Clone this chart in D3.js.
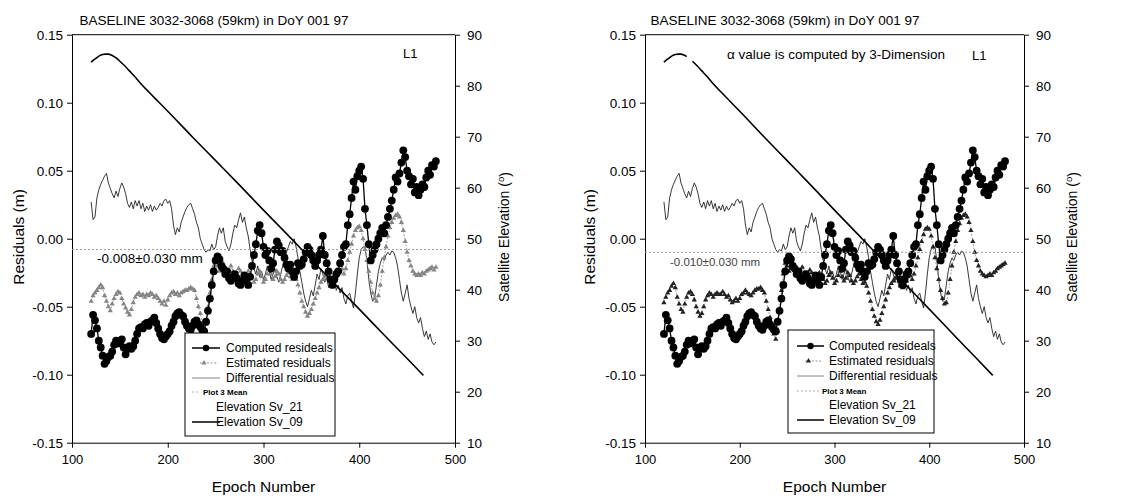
<!DOCTYPE html>
<html>
<head>
<meta charset="utf-8">
<script src="https://cdn.jsdelivr.net/npm/d3@7"></script>
<style>
  body { margin: 0; background: #fff; }
  svg text { font-family: "Liberation Sans", Arial, sans-serif; fill: #000; }
</style>
</head>
<body>
<svg id="chart" width="1125" height="499"></svg>
<script>
// epochs sampled every 2 epochs
const epochs = d3.range(120, 481, 2);

// computed residuals (m), same in both panels
const computed = [
  -0.070,-0.056,-0.060,-0.066,-0.075,-0.080,-0.086,-0.092,-0.090,-0.087,
  -0.086,-0.083,-0.078,-0.075,-0.077,-0.076,-0.074,-0.080,-0.085,-0.081,
  -0.079,-0.081,-0.079,-0.075,-0.070,-0.066,-0.065,-0.066,-0.063,-0.062,
  -0.064,-0.061,-0.060,-0.058,-0.062,-0.066,-0.070,-0.073,-0.074,-0.072,
  -0.070,-0.068,-0.064,-0.061,-0.057,-0.055,-0.054,-0.056,-0.057,-0.061,
  -0.064,-0.066,-0.067,-0.064,-0.061,-0.060,-0.063,-0.065,-0.067,-0.068,
  -0.061,-0.053,-0.044,-0.034,-0.024,-0.016,-0.013,-0.015,-0.020,-0.022,
  -0.026,-0.024,-0.029,-0.031,-0.028,-0.026,-0.029,-0.033,-0.034,-0.031,
  -0.027,-0.030,-0.034,-0.028,-0.020,-0.012,-0.004,0.006,0.010,0.004,
  -0.006,-0.012,-0.009,-0.016,-0.022,-0.018,-0.008,-0.002,-0.005,-0.010,
  -0.009,-0.014,-0.019,-0.022,-0.019,-0.024,-0.028,-0.024,-0.018,-0.020,
  -0.019,-0.015,-0.010,-0.006,-0.008,-0.012,-0.016,-0.020,-0.016,-0.012,
  -0.008,0.002,-0.012,-0.018,-0.024,-0.030,-0.034,-0.030,-0.026,-0.024,
  -0.018,-0.012,-0.006,-0.004,0.010,0.018,0.030,0.042,0.036,0.046,
  0.050,0.053,0.044,0.022,0.010,-0.004,-0.016,-0.012,-0.008,-0.004,
  0.000,0.004,0.008,0.004,0.010,0.016,0.022,0.028,0.036,0.045,
  0.042,0.048,0.056,0.065,0.060,0.050,0.046,0.040,0.044,0.034,
  0.038,0.032,0.036,0.040,0.038,0.045,0.050,0.047,0.054,0.053,
  0.057
];

// estimated residuals (m), left panel
const estimatedLeft = [
  -0.046,-0.042,-0.040,-0.038,-0.036,-0.034,-0.036,-0.042,-0.046,-0.050,
  -0.053,-0.048,-0.044,-0.041,-0.039,-0.040,-0.044,-0.048,-0.051,-0.054,
  -0.056,-0.052,-0.047,-0.043,-0.041,-0.040,-0.042,-0.041,-0.043,-0.041,
  -0.042,-0.040,-0.041,-0.043,-0.042,-0.044,-0.046,-0.048,-0.046,-0.049,
  -0.045,-0.042,-0.040,-0.039,-0.041,-0.040,-0.042,-0.040,-0.039,-0.038,
  -0.038,-0.037,-0.036,-0.037,-0.038,-0.044,-0.050,-0.055,-0.062,-0.067,
  -0.063,-0.050,-0.040,-0.030,-0.020,-0.016,-0.020,-0.024,-0.020,-0.018,
  -0.022,-0.026,-0.024,-0.020,-0.024,-0.028,-0.026,-0.022,-0.024,-0.028,
  -0.030,-0.027,-0.024,-0.026,-0.028,-0.032,-0.030,-0.026,-0.024,-0.028,
  -0.032,-0.030,-0.026,-0.022,-0.026,-0.030,-0.028,-0.024,-0.026,-0.030,
  -0.032,-0.030,-0.027,-0.025,-0.028,-0.030,-0.028,-0.030,-0.034,-0.040,
  -0.046,-0.050,-0.054,-0.057,-0.055,-0.052,-0.048,-0.044,-0.040,-0.036,
  -0.032,-0.030,-0.028,-0.026,-0.028,-0.030,-0.032,-0.030,-0.028,-0.026,
  -0.024,-0.022,-0.026,-0.022,-0.016,-0.010,-0.004,0.002,0.006,0.008,
  0.009,0.006,0.000,-0.008,-0.016,-0.024,-0.032,-0.040,-0.044,-0.046,
  -0.042,-0.034,-0.024,-0.014,-0.006,0.002,0.008,0.012,0.015,0.017,
  0.018,0.016,0.012,0.006,-0.002,-0.010,-0.016,-0.020,-0.024,-0.026,
  -0.027,-0.026,-0.027,-0.025,-0.026,-0.024,-0.023,-0.022,-0.021,-0.023,
  -0.021
];

// estimated residuals (m), right panel (3-D alpha)
const estimatedRight = [
  -0.047,-0.043,-0.040,-0.038,-0.035,-0.033,-0.036,-0.043,-0.048,-0.052,
  -0.054,-0.048,-0.043,-0.040,-0.039,-0.041,-0.045,-0.050,-0.054,-0.057,
  -0.055,-0.050,-0.045,-0.042,-0.040,-0.041,-0.043,-0.041,-0.040,-0.041,
  -0.041,-0.039,-0.041,-0.043,-0.042,-0.045,-0.047,-0.046,-0.044,-0.046,
  -0.044,-0.041,-0.040,-0.038,-0.040,-0.041,-0.042,-0.040,-0.038,-0.037,
  -0.037,-0.036,-0.038,-0.040,-0.046,-0.052,-0.058,-0.064,-0.070,-0.074,
  -0.068,-0.052,-0.038,-0.026,-0.018,-0.020,-0.024,-0.022,-0.018,-0.020,
  -0.024,-0.027,-0.024,-0.021,-0.025,-0.029,-0.026,-0.023,-0.025,-0.029,
  -0.031,-0.028,-0.025,-0.027,-0.030,-0.033,-0.031,-0.027,-0.025,-0.029,
  -0.033,-0.031,-0.027,-0.024,-0.028,-0.031,-0.029,-0.025,-0.027,-0.031,
  -0.033,-0.031,-0.028,-0.026,-0.030,-0.033,-0.032,-0.035,-0.040,-0.046,
  -0.052,-0.057,-0.061,-0.063,-0.060,-0.055,-0.050,-0.045,-0.040,-0.036,
  -0.033,-0.031,-0.029,-0.028,-0.031,-0.034,-0.036,-0.034,-0.031,-0.028,
  -0.027,-0.030,-0.026,-0.020,-0.014,-0.008,-0.002,0.003,0.007,0.008,
  0.007,0.002,-0.006,-0.014,-0.022,-0.030,-0.038,-0.044,-0.048,-0.047,
  -0.040,-0.030,-0.020,-0.010,-0.002,0.006,0.011,0.015,0.017,0.018,
  0.016,0.012,0.006,-0.002,-0.010,-0.016,-0.020,-0.024,-0.026,-0.027,
  -0.028,-0.027,-0.026,-0.027,-0.025,-0.024,-0.022,-0.021,-0.020,-0.019,
  -0.018
];

// differential residuals (m)
const differential = [
  0.027,0.014,0.016,0.030,0.036,0.040,0.043,0.046,0.048,0.041,
  0.037,0.033,0.030,0.035,0.031,0.037,0.041,0.038,0.033,0.026,
  0.023,0.027,0.022,0.028,0.024,0.028,0.022,0.026,0.020,0.024,
  0.021,0.025,0.020,0.024,0.021,0.023,0.026,0.024,0.028,0.029,
  0.026,0.028,0.022,0.010,0.003,0.008,0.005,0.012,0.016,0.020,
  0.023,0.025,0.026,0.022,0.018,0.012,0.008,0.000,-0.004,-0.008,
  -0.010,-0.008,-0.009,-0.004,-0.008,-0.006,0.002,0.008,0.004,0.008,
  -0.002,-0.006,-0.009,-0.004,0.004,0.010,0.008,0.014,0.019,0.012,
  0.016,0.008,0.002,-0.008,-0.016,-0.022,-0.026,-0.020,-0.028,-0.024,
  -0.030,-0.026,-0.020,-0.024,-0.030,-0.026,-0.022,-0.028,-0.032,-0.026,
  -0.020,-0.016,-0.010,-0.006,-0.002,-0.004,0.000,-0.006,-0.014,-0.024,
  -0.032,-0.040,-0.046,-0.050,-0.044,-0.038,-0.042,-0.034,-0.026,-0.030,
  -0.022,-0.026,-0.032,-0.028,-0.036,-0.030,-0.036,-0.030,-0.038,-0.034,
  -0.040,-0.036,-0.044,-0.048,-0.042,-0.040,-0.046,-0.051,-0.040,-0.026,
  -0.014,-0.008,-0.006,-0.006,-0.016,-0.030,-0.040,-0.046,-0.044,-0.034,
  -0.024,-0.018,-0.014,-0.016,-0.012,-0.010,-0.012,-0.009,-0.010,-0.014,
  -0.020,-0.030,-0.040,-0.046,-0.040,-0.034,-0.044,-0.050,-0.055,-0.050,
  -0.058,-0.062,-0.058,-0.066,-0.072,-0.068,-0.074,-0.070,-0.076,-0.078,
  -0.076
];

// elevation of Sv_09 (degrees)
const elevEpochs = [120,123,126,129,132,135,138,141,144,147,150,155,160,166,172,180,190,200,225,250,275,300,325,350,375,400,425,450,467];
const elevValues = [84.6,85.1,85.5,85.9,86.1,86.2,86.2,86.0,85.7,85.3,84.8,83.9,82.9,81.7,80.4,78.8,76.9,75.0,70.1,65.3,60.5,55.6,50.8,45.9,41.0,36.2,31.3,26.5,23.2];
const elevGapRight = 147; // sample missing in right panel

const meanLeft = -0.008, meanRight = -0.010;
const xTicks = [100, 200, 300, 400, 500];
const yTicks = [-0.15, -0.10, -0.05, 0, 0.05, 0.10, 0.15];
const elevTicks = [10, 20, 30, 40, 50, 60, 70, 80, 90];
const legendLabels = ['Computed resideals', 'Estimated residuals', 'Differential residuals', 'Plot 3 Mean', 'Elevation Sv_21', 'Elevation Sv_09'];
const titleText = 'BASELINE 3032-3068 (59km) in DoY 001 97';

const svg = d3.select('#chart');
const yTop = 34.7, yBottom = 442.7;

const panels = [
  { x0: 72, x1: 455, titleX: 214, resLabelX: 19, elevLabelX: 504,
    est: estimatedLeft, mean: meanLeft, meanText: '-0.008\u00b10.030 mm',
    meanTextX: 97, meanTextY: 263, meanTextSize: 13.5, meanTextFill: '#000',
    estLine: '#9a9a9a', estMark: '#858585', l1X: 403, l1Y: 58, note: null,
    legend: { x: 185, y: 333, w: 150, h: 103, rows: [348, 363, 378, 392, 407, 422], s0: 192, s1: 220, tx: 226, meanTx: 203, elevTx: 216 } },
  { x0: 645, x1: 1024, titleX: 785, resLabelX: 590, elevLabelX: 1072,
    est: estimatedRight, mean: meanRight, meanText: '-0.010\u00b10.030 mm',
    meanTextX: 670, meanTextY: 266, meanTextSize: 11.5, meanTextFill: '#444',
    estLine: '#999', estMark: '#222', l1X: 972, l1Y: 60,
    note: { x: 836, y: 59, text: '\u03b1 value is computed by 3-Dimension' },
    legend: { x: 788, y: 330, w: 146, h: 103, rows: [346, 361, 376, 391, 405, 420], s0: 797, s1: 824, tx: 829, meanTx: 822, elevTx: 829 } }
];

panels.forEach((p, pi) => {
  const x = d3.scaleLinear().domain([100, 500]).range([p.x0, p.x1]);
  const y = d3.scaleLinear().domain([-0.15, 0.15]).range([yBottom, yTop]);
  const yE = d3.scaleLinear().domain([10, 90]).range([yBottom, yTop]);
  const g = svg.append('g');

  // axes
  const ax = g.append('g').attr('transform', `translate(0,${yBottom})`)
    .call(d3.axisBottom(x).tickValues(xTicks).tickSize(5).tickSizeOuter(0).tickPadding(7));
  ax.selectAll('text').attr('font-size', 13);
  const ay = g.append('g').attr('transform', `translate(${p.x0},0)`)
    .call(d3.axisLeft(y).tickValues(yTicks).tickFormat(d => d.toFixed(2)).tickSize(5).tickSizeOuter(0).tickPadding(4));
  ay.selectAll('text').attr('font-size', 13.5);
  const ar = g.append('g').attr('transform', `translate(${p.x1},0)`)
    .call(d3.axisRight(yE).tickValues(elevTicks).tickSize(5).tickSizeOuter(0).tickPadding(7));
  ar.selectAll('text').attr('font-size', 13.5);
  g.selectAll('.domain, .tick line').attr('stroke', '#000');
  g.append('line').attr('x1', p.x0).attr('x2', p.x1).attr('y1', yTop).attr('y2', yTop).attr('stroke', '#000');

  // differential residuals
  g.append('path').datum(differential)
    .attr('fill', 'none').attr('stroke', '#222').attr('stroke-width', 0.9)
    .attr('d', d3.line().x((d, i) => x(epochs[i])).y(d => y(d)));

  // estimated residuals
  g.append('path').datum(p.est)
    .attr('fill', 'none').attr('stroke', p.estLine).attr('stroke-width', 0.9).attr('stroke-dasharray', '2,1.5')
    .attr('d', d3.line().x((d, i) => x(epochs[i])).y(d => y(d)));
  g.selectAll('.est').data(p.est).enter().append('path')
    .attr('transform', (d, i) => `translate(${x(epochs[i])},${y(d)})`)
    .attr('d', d3.symbol(d3.symbolTriangle, 12))
    .attr('fill', p.estMark);

  // computed residuals
  g.append('path').datum(computed)
    .attr('fill', 'none').attr('stroke', '#000').attr('stroke-width', 1.3)
    .attr('d', d3.line().x((d, i) => x(epochs[i])).y(d => y(d)));
  g.selectAll('.dot').data(computed).enter().append('circle')
    .attr('cx', (d, i) => x(epochs[i])).attr('cy', d => y(d)).attr('r', 3.9).attr('fill', '#000');

  // mean
  g.append('line').attr('x1', p.x0).attr('x2', p.x1).attr('y1', y(p.mean)).attr('y2', y(p.mean))
    .attr('stroke', '#999').attr('stroke-width', 1).attr('stroke-dasharray', '2,2');

  // elevation Sv_09
  const elevPts = elevEpochs.map((e, i) => ({ e, v: elevValues[i] }));
  g.append('path').datum(elevPts)
    .attr('fill', 'none').attr('stroke', '#000').attr('stroke-width', 1.6)
    .attr('d', d3.line().defined(d => pi === 0 || d.e !== elevGapRight)
      .curve(d3.curveMonotoneX).x(d => x(d.e)).y(d => yE(d.v)));

  // texts
  g.append('text').attr('x', p.titleX).attr('y', 25).attr('text-anchor', 'middle')
    .attr('font-size', 13.5).text(titleText);
  g.append('text').attr('x', p.l1X).attr('y', p.l1Y).attr('font-size', 13).text('L1');
  if (p.note) {
    g.append('text').attr('x', p.note.x).attr('y', p.note.y).attr('text-anchor', 'middle')
      .attr('font-size', 13.5).text(p.note.text);
  }
  g.append('text').attr('x', p.meanTextX).attr('y', p.meanTextY)
    .attr('font-size', p.meanTextSize).style('fill', p.meanTextFill).text(p.meanText);
  g.append('text').attr('transform', `translate(${p.resLabelX},237) rotate(-90)`)
    .attr('text-anchor', 'middle').attr('dy', '0.35em').attr('font-size', 15.5).text('Residuals (m)');
  const el = g.append('text').attr('transform', `translate(${p.elevLabelX},237) rotate(-90)`)
    .attr('text-anchor', 'middle').attr('dy', '0.35em').attr('font-size', 14);
  el.append('tspan').text('Satellite Elevation (');
  el.append('tspan').attr('font-size', 9.5).attr('dy', '-0.5em').text('o');
  el.append('tspan').attr('dy', '0.45em').text(')');
  g.append('text').attr('x', (p.x0 + p.x1) / 2).attr('y', 492).attr('text-anchor', 'middle')
    .attr('font-size', 15.5).text('Epoch Number');

  // legend
  const L = p.legend;
  const lg = g.append('g');
  lg.append('rect').attr('x', L.x).attr('y', L.y).attr('width', L.w).attr('height', L.h)
    .attr('fill', '#fff').attr('stroke', '#000').attr('stroke-width', 1);
  const mid = (L.s0 + L.s1) / 2;
  lg.append('line').attr('x1', L.s0).attr('x2', L.s1).attr('y1', L.rows[0]).attr('y2', L.rows[0]).attr('stroke', '#000').attr('stroke-width', 1.5);
  lg.append('circle').attr('cx', mid).attr('cy', L.rows[0]).attr('r', 3.2).attr('fill', '#000');
  lg.append('line').attr('x1', L.s0 + 8).attr('x2', L.s1 - 2).attr('y1', L.rows[1]).attr('y2', L.rows[1])
    .attr('stroke', p.estLine).attr('stroke-dasharray', '2,1.5');
  lg.append('path').attr('transform', `translate(${mid - 2},${L.rows[1]})`)
    .attr('d', d3.symbol(d3.symbolTriangle, 11)).attr('fill', p.estMark);
  lg.append('line').attr('x1', L.s0).attr('x2', L.s1).attr('y1', L.rows[2]).attr('y2', L.rows[2]).attr('stroke', '#666').attr('stroke-width', 0.8);
  lg.append('line').attr('x1', L.s0).attr('x2', L.meanTx - 3).attr('y1', L.rows[3]).attr('y2', L.rows[3])
    .attr('stroke', '#aaa').attr('stroke-dasharray', '2,2');
  lg.append('line').attr('x1', L.s0).attr('x2', L.s1).attr('y1', L.rows[5]).attr('y2', L.rows[5]).attr('stroke', '#000').attr('stroke-width', 1.5);
  legendLabels.forEach((t, i) => {
    const tx = i === 3 ? L.meanTx : (i >= 4 ? L.elevTx : L.tx);
    lg.append('text').attr('x', tx).attr('y', L.rows[i]).attr('dy', '0.35em')
      .attr('font-size', i === 3 ? 8 : 12).attr('font-weight', i === 3 ? 'bold' : null).text(t);
  });
});
</script>
</body>
</html>
